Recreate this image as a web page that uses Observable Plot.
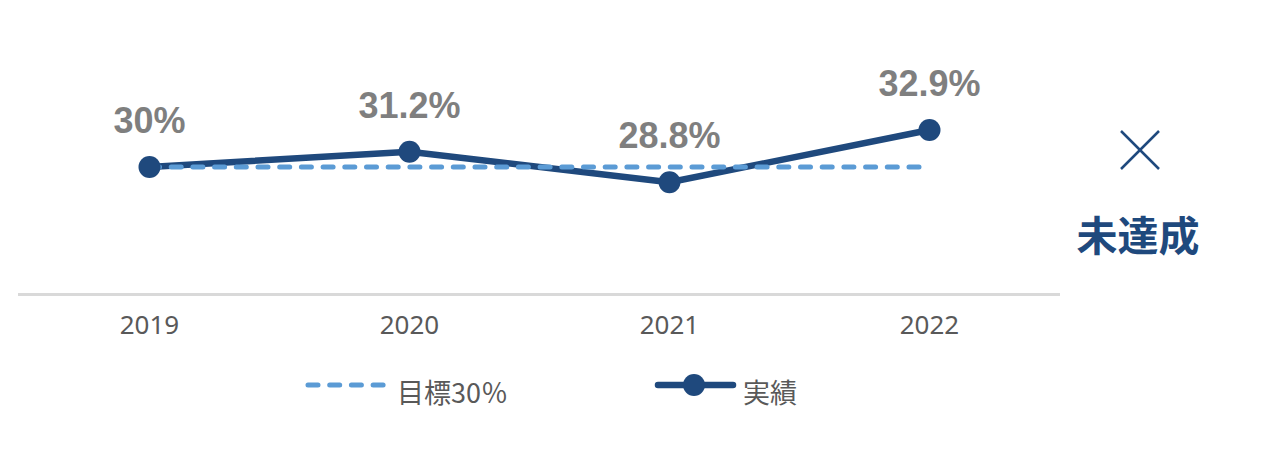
<!DOCTYPE html>
<html>
<head>
<meta charset="utf-8">
<script src="https://cdn.jsdelivr.net/npm/d3@7"></script>
<script src="https://cdn.jsdelivr.net/npm/@observablehq/plot@0.6"></script>
<style>
  html, body { margin: 0; padding: 0; background: #fff; }
  #wrap { position: relative; width: 1280px; height: 454px; overflow: hidden; font-family: "Noto Sans CJK JP", "Noto Sans", sans-serif; }
  #chart { position: absolute; left: 0; top: 0; }
  .abs { position: absolute; }
</style>
</head>
<body>
<div id="wrap">
  <div id="chart"></div>
  <svg class="abs" style="left:1110px;top:120px" width="60" height="60">
    <line x1="11" y1="11" x2="49" y2="49" stroke="#1f497d" stroke-width="2.5"/>
    <line x1="49" y1="11" x2="11" y2="49" stroke="#1f497d" stroke-width="2.5"/>
  </svg>
  <div class="abs" id="status" style="left:1038px;width:200px;top:213px;text-align:center;font-size:41px;line-height:41px;font-weight:bold;color:#1f497d;"></div>
  <div class="abs" id="legend" style="left:0;top:360px;width:1280px;height:60px;"></div>
</div>
<script>
const years = ["2019", "2020", "2021", "2022"];
const actualValues = [30, 31.2, 28.8, 32.9];
const targetValues = [30, 30, 30, 30];
const seriesNames = ["目標30％", "実績"];
const statusLabel = "未達成";

const actual = years.map((y, i) => ({year: y, value: actualValues[i]}));
const target = years.map((y, i) => ({year: y, value: targetValues[i]}));

const chart = Plot.plot({
  width: 1280,
  height: 340,
  marginLeft: 18,
  marginRight: 220,
  marginTop: 39,
  marginBottom: 46,
  style: {background: "transparent", overflow: "visible"},
  x: {type: "point", domain: years, padding: 0.5},
  y: {domain: [20, 40], axis: null},
  marks: [
    Plot.ruleY([20], {stroke: "#d9d9d9", strokeWidth: 3}),
    Plot.axisX({tickSize: 0, tickPadding: 21, fontSize: 26, fill: "#595959", fontFamily: "'Noto Sans', sans-serif", label: null}),
    Plot.line(actual, {x: "year", y: "value", stroke: "#1f497d", strokeWidth: 6.5}),
    Plot.line(target, {x: "year", y: "value", stroke: "#5b9bd5", strokeWidth: 5, strokeDasharray: "10,11.7", strokeLinecap: "round"}),
    Plot.dot(actual, {x: "year", y: "value", r: 11, fill: "#1f497d", stroke: null}),
    Plot.text(actual, {x: "year", y: "value", text: d => d.value + "%", dy: -34, lineAnchor: "bottom", fontSize: 36, fontWeight: "bold", fill: "#7f7f7f", fontFamily: "'Liberation Sans', Arial, sans-serif"})
  ]
});
document.getElementById("chart").appendChild(chart);
document.getElementById("status").textContent = statusLabel;

const legend = document.getElementById("legend");
legend.innerHTML = `
  <svg class="abs" style="left:300px;top:15px" width="95" height="20">
    <line x1="8" y1="10" x2="85" y2="10" stroke="#5b9bd5" stroke-width="5" stroke-dasharray="10,11.7" stroke-linecap="round"/>
  </svg>
  <div class="abs" style="left:397px;top:18px;font-size:27px;line-height:27px;color:#595959;">${seriesNames[0]}</div>
  <svg class="abs" style="left:650px;top:5px" width="90" height="40">
    <line x1="8" y1="20" x2="83" y2="20" stroke="#1f497d" stroke-width="6.5" stroke-linecap="round"/>
    <circle cx="44" cy="20" r="11" fill="#1f497d"/>
  </svg>
  <div class="abs" style="left:743px;top:18px;font-size:27px;line-height:27px;color:#595959;">${seriesNames[1]}</div>
`;
</script>
</body>
</html>
